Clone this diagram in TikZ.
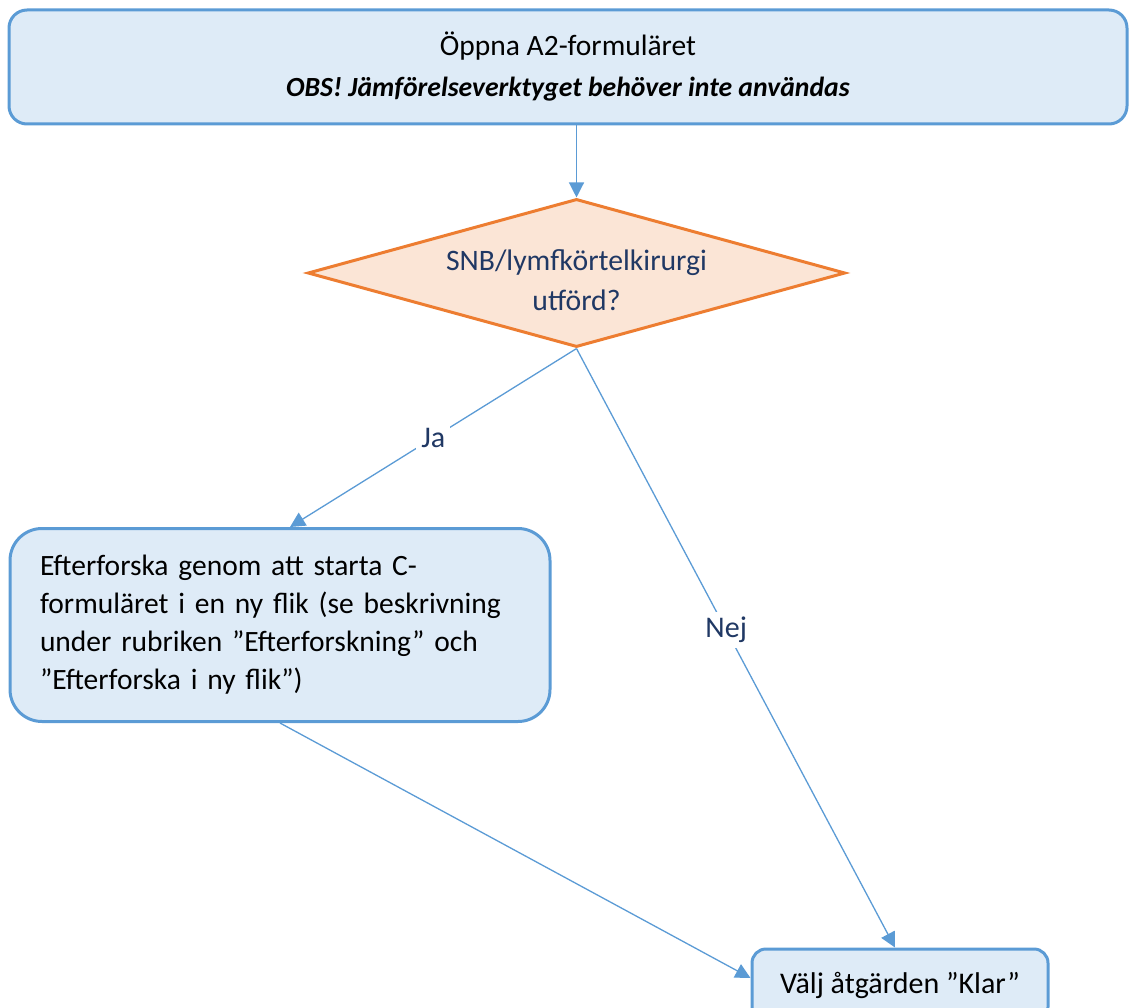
\documentclass[tikz,border=0pt]{standalone}
\usepackage{fontspec}
\setmainfont{Carlito}
\usetikzlibrary{shapes.geometric,arrows.meta}
\definecolor{boxfill}{HTML}{DEEBF7}
\definecolor{boxline}{HTML}{5B9BD5}
\definecolor{decfill}{HTML}{FBE5D6}
\definecolor{decline}{HTML}{ED7D31}
\definecolor{navy}{HTML}{203864}

\begin{document}
\begin{tikzpicture}[x=1pt,y=-1pt,
  box/.style={draw=boxline,fill=boxfill,line width=3pt},
  link/.style={draw=boxline,line width=1.3pt,-{Triangle[length=15pt,width=15pt]}},
  lab/.style={fill=white,text=navy,inner sep=5pt,font=\fontsize{30}{34}\selectfont}]
  \useasboundingbox (0,0) rectangle (1129,1008);
  \node[box,rounded corners=18pt,minimum width=1118pt,minimum height=114pt,align=center,
        font=\fontsize{29.5}{41}\selectfont] (open) at (568,67)
    {Öppna A2-formuläret\\{\fontsize{27.7}{41}\selectfont\textbf{\textit{OBS! Jämförelseverktyget behöver inte användas}}}};
  \node[shape=diamond,draw=decline,fill=decfill,line width=3pt,aspect=3.63,inner sep=0pt,
        minimum width=537pt,minimum height=148pt,align=center,text=navy,
        font=\fontsize{29.7}{40}\selectfont] (snb) at (576.5,273)
    {\rule{0pt}{36pt}SNB/lymfkörtelkirurgi\\utförd?};
  \node[box,rounded corners=32pt,minimum width=540pt,minimum height=193pt,inner xsep=30pt,
        text width=480pt,align=left,font=\fontsize{29.5}{38}\selectfont] (search) at (280,625)
    {Efterforska genom att starta C-\\formuläret i en ny flik (se beskrivning\\under rubriken ”Efterforskning” och\\”Efterforska i ny flik”)};
  \node[box,rounded corners=14pt,minimum width=296pt,minimum height=72pt,
        font=\fontsize{30}{34}\selectfont] (done) at (900,985)
    {Välj åtgärden ”Klar”};
  \draw[link] (open.south -| snb.north) -- (snb.north);
  \draw[link] (snb.south) -- node[lab] {Ja} ([xshift=10pt]search.north);
  \draw[link] (snb.south) -- node[lab,pos=0.47] {Nej} ([xshift=-5pt]done.north);
  \draw[link] (search.south) -- ([yshift=7pt]done.west);
\end{tikzpicture}
\end{document}
